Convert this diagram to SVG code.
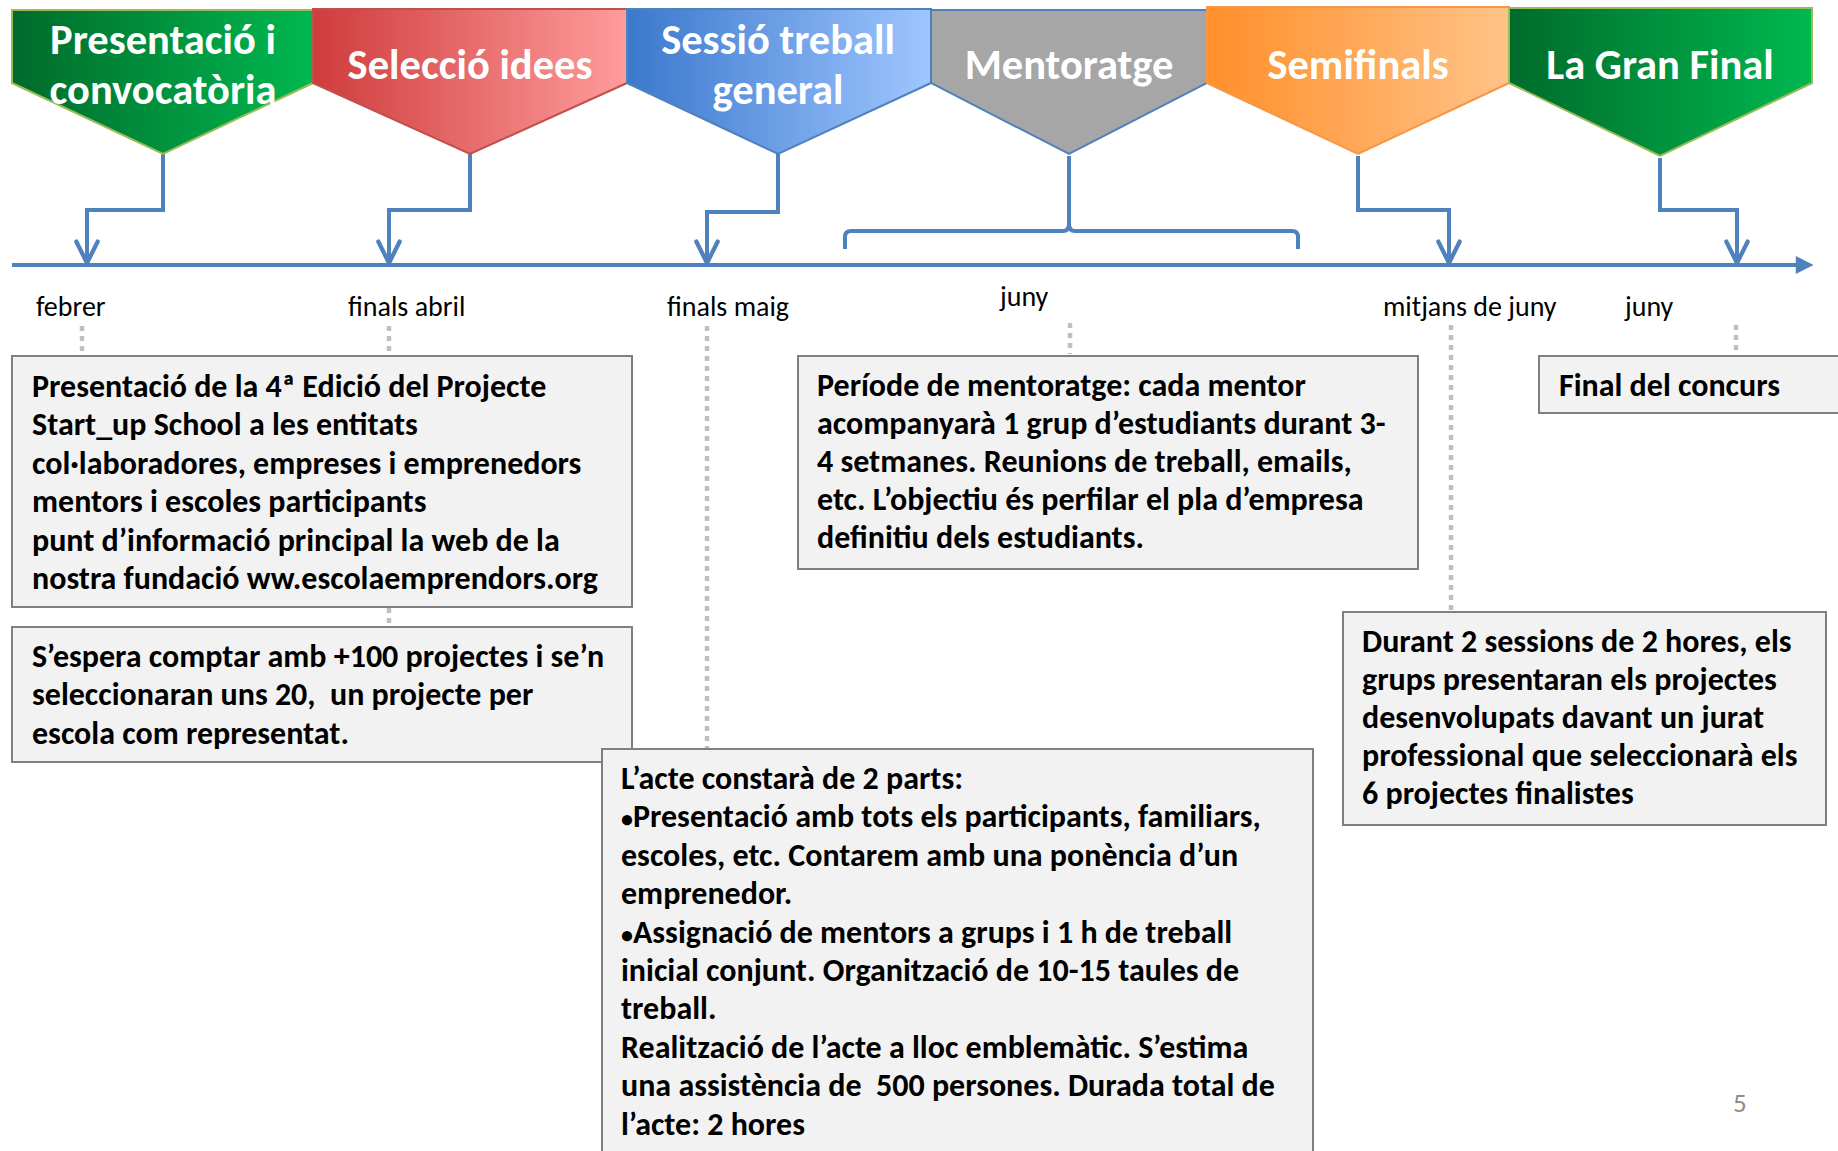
<svg xmlns="http://www.w3.org/2000/svg" width="1838" height="1151" viewBox="0 0 1838 1151">
<style>
  text { font-family: Carlito, Calibri, Lato, "Open Sans", sans-serif; white-space: pre; }
  .chev { font-size: 42.5px; font-weight: bold; fill: #FFFFFF; text-anchor: middle; }
  .lbl { font-size: 28px; fill: #000000; }
  .body { font-size: 32px; font-weight: bold; fill: #000000; }
  .bul { font-size: 24px; }
  .box { fill: #F2F2F2; stroke: #7F7F7F; stroke-width: 2; }
  .conn { fill: none; stroke: #4F81BD; stroke-width: 4; stroke-linejoin: miter; }
  .dot { stroke: #BFBFBF; stroke-width: 4.5; stroke-dasharray: 5 5; fill: none; }
  .pg { font-size: 27px; fill: #8C8C8C; }
</style>
<defs>
  <linearGradient id="gGreen" x1="0" y1="0" x2="1" y2="0">
    <stop offset="0" stop-color="#006B2B"/>
    <stop offset="1" stop-color="#00B850"/>
  </linearGradient>
  <linearGradient id="gRed" x1="0" y1="0" x2="1" y2="0">
    <stop offset="0" stop-color="#CF3C3C"/>
    <stop offset="1" stop-color="#FF9C9C"/>
  </linearGradient>
  <linearGradient id="gBlue" x1="0" y1="0" x2="1" y2="0">
    <stop offset="0" stop-color="#3B78CC"/>
    <stop offset="1" stop-color="#9FC6FF"/>
  </linearGradient>
  <linearGradient id="gOrange" x1="0" y1="0" x2="1" y2="0">
    <stop offset="0" stop-color="#FF8F2A"/>
    <stop offset="1" stop-color="#FFC388"/>
  </linearGradient>
  <marker id="openArrow" markerUnits="userSpaceOnUse" markerWidth="30" markerHeight="30" viewBox="-24 -14 28 28" refX="0" refY="0" orient="auto" overflow="visible">
    <path d="M-20,-10 L0,0 L-20,10" fill="none" stroke="#4F81BD" stroke-width="4" stroke-linecap="round" stroke-linejoin="round"/>
  </marker>
  <marker id="solidArrow" markerUnits="userSpaceOnUse" markerWidth="20" markerHeight="20" viewBox="0 -9 18 18" refX="2" refY="0" orient="auto" overflow="visible">
    <path d="M0,-8 L16,0 L0,8 Z" fill="#4F81BD"/>
  </marker>
</defs>
<rect x="0" y="0" width="1838" height="1151" fill="#FFFFFF"/>

<g id="connectors">
  <path class="conn" d="M12,265 H1798" stroke-width="5" marker-end="url(#solidArrow)"/>
  <path class="conn" d="M163,154 V210 H87 V263" marker-end="url(#openArrow)"/>
  <path class="conn" d="M470,154 V210 H389 V263" marker-end="url(#openArrow)"/>
  <path class="conn" d="M778,154 V212 H707 V263" marker-end="url(#openArrow)"/>
  <path class="conn" d="M1069,156 V226"/>
  <path class="conn" d="M845,249 V237 Q845,231 851,231 H1063 Q1069,231 1069,224 Q1069,231 1075,231 H1292 Q1298,231 1298,237 V249"/>
  <path class="conn" d="M1358,156 V210 H1449 V263" marker-end="url(#openArrow)"/>
  <path class="conn" d="M1660,158 V210 H1737 V263" marker-end="url(#openArrow)"/>
  <path class="dot" d="M82,326 V352"/>
  <path class="dot" d="M389,326 V352"/>
  <path class="dot" d="M389,608 V626"/>
  <path class="dot" d="M707,326 V748"/>
  <path class="dot" d="M1070,323 V354"/>
  <path class="dot" d="M1451,325 V610"/>
  <path class="dot" d="M1736,325 V354"/>
</g>

<g id="chevron1">
  <path d="M12,10 H313 V83 L163,154 L12,83 Z" fill="url(#gGreen)" stroke="#9BBB59" stroke-width="2"/>
  <text class="chev" x="163" y="54">Presentació i</text>
  <text class="chev" x="163" y="104">convocatòria</text>
</g>
<g id="chevron2">
  <path d="M313,9 H627 V83 L470,154 L313,83 Z" fill="url(#gRed)" stroke="#C0504D" stroke-width="2"/>
  <text class="chev" x="470" y="79">Selecció idees</text>
</g>
<g id="chevron3">
  <path d="M627,9 H931 V83 L778,154 L627,83 Z" fill="url(#gBlue)" stroke="#4F81BD" stroke-width="2"/>
  <text class="chev" x="778" y="54">Sessió treball</text>
  <text class="chev" x="778" y="104">general</text>
</g>
<g id="chevron4">
  <path d="M931,10 H1207 V83 L1069,154 L931,83 Z" fill="#A6A6A6" stroke="#4F81BD" stroke-width="2"/>
  <text class="chev" x="1069" y="79">Mentoratge</text>
</g>
<g id="chevron5">
  <path d="M1207,7 H1509 V83 L1358,154 L1207,83 Z" fill="url(#gOrange)" stroke="#F79646" stroke-width="2"/>
  <text class="chev" x="1358" y="79">Semifinals</text>
</g>
<g id="chevron6">
  <path d="M1509,8 H1812 V83 L1660,156 L1509,83 Z" fill="url(#gGreen)" stroke="#9BBB59" stroke-width="2"/>
  <text class="chev" x="1660" y="79">La Gran Final</text>
</g>

<g id="labels">
  <text class="lbl" x="36" y="316">febrer</text>
  <text class="lbl" x="348" y="316">finals abril</text>
  <text class="lbl" x="667" y="316">finals maig</text>
  <text class="lbl" x="1000" y="306">juny</text>
  <text class="lbl" x="1383" y="316">mitjans de juny</text>
  <text class="lbl" x="1625" y="316">juny</text>
</g>

<g id="box1">
  <rect class="box" x="12" y="356" width="620" height="251"/>
  <text class="body" x="32" y="397">Presentació de la 4ª Edició del Projecte</text>
  <text class="body" x="32" y="435">Start_up School a les entitats</text>
  <text class="body" x="32" y="474">col·laboradores, empreses i emprenedors</text>
  <text class="body" x="32" y="512">mentors i escoles participants</text>
  <text class="body" x="32" y="551">punt d’informació principal la web de la</text>
  <text class="body" x="32" y="589">nostra fundació ww.escolaemprendors.org</text>
</g>
<g id="box2">
  <rect class="box" x="12" y="627" width="620" height="135"/>
  <text class="body" x="32" y="667">S’espera comptar amb +100 projectes i se’n</text>
  <text class="body" x="32" y="705">seleccionaran uns 20,  un projecte per</text>
  <text class="body" x="32" y="744">escola com representat.</text>
</g>
<g id="box3">
  <rect class="box" x="602" y="749" width="711" height="420"/>
  <text class="body" x="621" y="789">L’acte constarà de 2 parts:</text>
  <text class="body" x="621" y="827"><tspan class="bul">•</tspan>Presentació amb tots els participants, familiars,</text>
  <text class="body" x="621" y="866">escoles, etc. Contarem amb una ponència d’un</text>
  <text class="body" x="621" y="904">emprenedor.</text>
  <text class="body" x="621" y="943"><tspan class="bul">•</tspan>Assignació de mentors a grups i 1 h de treball</text>
  <text class="body" x="621" y="981">inicial conjunt. Organització de 10-15 taules de</text>
  <text class="body" x="621" y="1019">treball.</text>
  <text class="body" x="621" y="1058">Realització de l’acte a lloc emblemàtic. S’estima</text>
  <text class="body" x="621" y="1096">una assistència de  500 persones. Durada total de</text>
  <text class="body" x="621" y="1135">l’acte: 2 hores</text>
</g>
<g id="box4">
  <rect class="box" x="798" y="356" width="620" height="213"/>
  <text class="body" x="817" y="396">Període de mentoratge: cada mentor</text>
  <text class="body" x="817" y="434">acompanyarà 1 grup d’estudiants durant 3-</text>
  <text class="body" x="817" y="472">4 setmanes. Reunions de treball, emails,</text>
  <text class="body" x="817" y="510">etc. L’objectiu és perfilar el pla d’empresa</text>
  <text class="body" x="817" y="548">definitiu dels estudiants.</text>
</g>
<g id="box5">
  <rect class="box" x="1343" y="612" width="483" height="213"/>
  <text class="body" x="1362" y="652">Durant 2 sessions de 2 hores, els</text>
  <text class="body" x="1362" y="690">grups presentaran els projectes</text>
  <text class="body" x="1362" y="728">desenvolupats davant un jurat</text>
  <text class="body" x="1362" y="766">professional que seleccionarà els</text>
  <text class="body" x="1362" y="804">6 projectes finalistes</text>
</g>
<g id="box6">
  <rect class="box" x="1539" y="356" width="310" height="57"/>
  <text class="body" x="1559" y="396">Final del concurs</text>
</g>
<text class="pg" x="1733" y="1112">5</text>
</svg>
